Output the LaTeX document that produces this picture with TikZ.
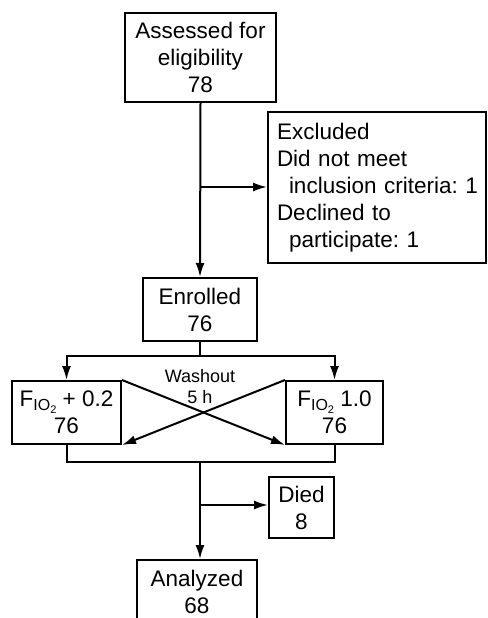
\documentclass[tikz,border=0pt]{standalone}
\usepackage{fontspec}
\setmainfont{Liberation Sans}
\usepackage{tikz}
\usetikzlibrary{positioning, arrows.meta}

\newcommand{\fio}{F\raisebox{-4pt}{\fontsize{16}{16}\selectfont IO\raisebox{-3pt}{\fontsize{11}{11}\selectfont 2}}}
\frenchspacing

\begin{document}
\begin{tikzpicture}[
    x=1pt, y=-1pt,
    arrow/.style={-{Latex[length=14pt, width=9pt]}, line width=2pt},
    box/.style={draw, line width=2pt, inner sep=0pt, align=center,
        font=\fontsize{22.5}{27}\selectfont}
]
    \useasboundingbox (0, 0) rectangle (487, 618);
    \clip (0, 0) rectangle (487, 618);

    % Boxes
    \node[box, minimum width=151, minimum height=89] (assess) at (200.5, 57.5)
        {Assessed for\\eligibility\\78};
    \node[box, align=left, text width=200pt, inner xsep=9pt,
        minimum height=151] (excl) at (377, 187.5)
        {Excluded\\Did not meet\\\hspace*{12pt}\mbox{inclusion criteria: 1}\\Declined to\\\hspace*{12pt}\mbox{participate: 1}};
    \node[box, minimum width=114, minimum height=63] (enrol) at (200, 309.5)
        {Enrolled\\76};
    \node[box, minimum width=109, minimum height=63] (fioa) at (66.5, 412.5)
        {\fio{} + 0.2\\76};
    \node[box, minimum width=97, minimum height=63] (fiob) at (334.5, 412.5)
        {\fio{} 1.0\\76};
    \node[box, minimum width=65, minimum height=61] (died) at (301.5, 507.5)
        {Died\\8};
    \node[box, minimum width=120, minimum height=63] (anal) at (197, 591.5)
        {Analyzed\\68};

    % Washout label
    \node[align=center, font=\fontsize{18}{21}\selectfont] (wash) at (200, 387)
        {Washout\\5 h};

    % Junctions
    \coordinate (xsplit) at (200.5, 187);
    \coordinate (split) at (200, 356);
    \coordinate (join) at (200, 462);
    \coordinate (dsplit) at (200, 505);

    % Connectors
    \draw[arrow] (assess.south) -- (enrol.north);
    \draw[arrow] (xsplit) -- (xsplit -| excl.west);
    \draw[line width=2pt] (enrol.south) -- (split);
    \draw[arrow] (split) -| (fioa.north);
    \draw[arrow] (split) -| (fiob.north);

    % Crossover
    \draw[arrow] (fioa.north east) -- (fiob.south west);
    \draw[arrow] (fiob.north west) -- (fioa.south east);

    \draw[line width=2pt] (fioa.south) |- (join) -| (fiob.south);
    \draw[arrow] (join) -- (join |- anal.north);
    \draw[arrow] (dsplit) -- (dsplit -| died.west);

\end{tikzpicture}
\end{document}
